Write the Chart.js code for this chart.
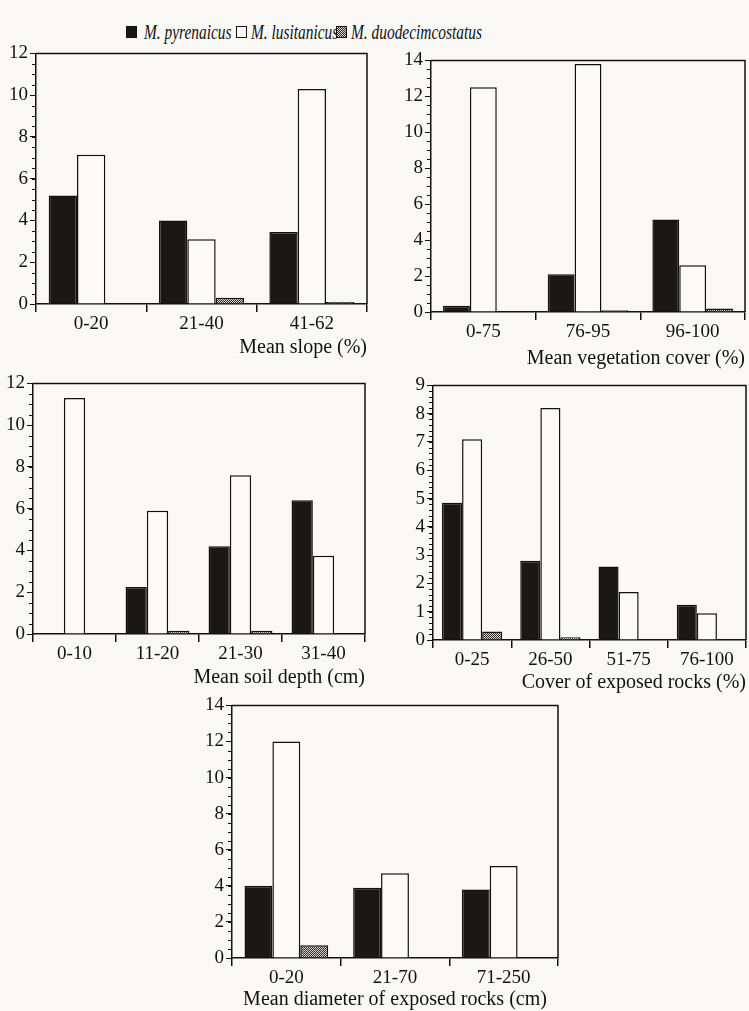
<!DOCTYPE html>
<html>
<head>
<meta charset="utf-8">
<script src="https://cdn.jsdelivr.net/npm/chart.js@4.4.0/dist/chart.umd.min.js"></script>
<style>
html, body { margin: 0; padding: 0; background: #faf8f5; }
body { width: 749px; height: 1011px; position: relative; overflow: hidden; font-family: "Liberation Serif", serif; }
canvas { position: absolute; }
.sw { position: absolute; width: 11px; height: 12px; border: 1.5px solid #111; box-sizing: border-box; }
.lt { position: absolute; font-style: italic; font-size: 22px; color: #111; white-space: nowrap; transform: scaleX(0.7); transform-origin: left center; line-height: 22px; }
</style>
</head>
<body>
<div class="sw" style="left:126px;top:26px;background:#1a1717"></div>
<div class="lt" style="left:144px;top:21px">M. pyrenaicus</div>
<div class="sw" style="left:236px;top:26px;background:#fbfaf8"></div>
<div class="lt" style="left:251px;top:21px">M. lusitanicus</div>
<div class="sw" id="dotsw" style="left:336px;top:26px"></div>
<div class="lt" style="left:351px;top:21px">M. duodecimcostatus</div>

<script>
// values
var seriesNames = ['M. pyrenaicus', 'M. lusitanicus', 'M. duodecimcostatus'];

var slopeCats = ['0-20', '21-40', '41-62'];
var slopePyr = [5.2, 4.0, 3.45];
var slopeLus = [7.15, 3.1, 10.3];
var slopeDuo = [0, 0.3, 0.1];

var vegCats = ['0-75', '76-95', '96-100'];
var vegPyr = [0.35, 2.1, 5.15];
var vegLus = [12.5, 13.8, 2.6];
var vegDuo = [0, 0.1, 0.2];

var soilCats = ['0-10', '11-20', '21-30', '31-40'];
var soilPyr = [0, 2.25, 4.2, 6.4];
var soilLus = [11.3, 5.9, 7.6, 3.75];
var soilDuo = [0, 0.15, 0.15, 0];

var rockCoverCats = ['0-25', '26-50', '51-75', '76-100'];
var rockCoverPyr = [4.85, 2.8, 2.6, 1.25];
var rockCoverLus = [7.1, 8.2, 1.7, 0.95];
var rockCoverDuo = [0.3, 0.1, 0, 0];

var rockDiamCats = ['0-20', '21-70', '71-250'];
var rockDiamPyr = [4.0, 3.9, 3.8];
var rockDiamLus = [12.0, 4.7, 5.1];
var rockDiamDuo = [0.7, 0, 0];

var ink = '#111';
var serif = 'Liberation Serif';

function makePattern() {
    var c = document.createElement('canvas');
    c.width = 2; c.height = 2;
    var x = c.getContext('2d');
    x.fillStyle = '#2e2a2a';
    x.fillRect(0, 0, 2, 2);
    x.fillStyle = '#d9d5d0';
    x.fillRect(0, 0, 1, 1);
    x.fillRect(1, 1, 1, 1);
    return c;
}
var patCanvas = makePattern();
document.getElementById('dotsw').style.background = 'url(' + patCanvas.toDataURL() + ')';

// top + right frame lines and the small minor ticks on the y axis
var framePlugin = {
    id: 'frame',
    afterDatasetsDraw: function(chart, args, opts) {
        var a = chart.chartArea, ctx = chart.ctx, y = chart.scales.y;
        ctx.save();
        ctx.strokeStyle = ink;
        ctx.lineWidth = 1.5;
        ctx.beginPath();
        ctx.moveTo(a.left, a.top);
        ctx.lineTo(a.right, a.top);
        ctx.lineTo(a.right, a.bottom);
        ctx.stroke();
        ctx.lineWidth = 1;
        ctx.beginPath();
        for (var v = 0; v <= y.max + 1e-9; v += opts.minor) {
            var py = Math.round(y.getPixelForValue(v)) + 0.5;
            ctx.moveTo(a.left - 4, py);
            ctx.lineTo(a.left, py);
        }
        ctx.stroke();
        ctx.restore();
    }
};

function panel(plot, cats, pyr, lus, duo, yMax, yStep, minor, title, titleY, titleAlign) {
    var yw = 36;
    var left = plot.L - yw, top = plot.T - 12;
    var width = plot.R - left + 3;
    var xh = titleY - plot.B + 12;
    var height = 12 + plot.B - plot.T + xh;

    var cv = document.createElement('canvas');
    cv.width = width; cv.height = height;
    cv.style.left = left + 'px';
    cv.style.top = top + 'px';
    cv.style.width = width + 'px';
    cv.style.height = height + 'px';
    document.body.appendChild(cv);
    var ctx = cv.getContext('2d');
    var pattern = ctx.createPattern(patCanvas, 'repeat');

    new Chart(ctx, {
        type: 'bar',
        data: {
            labels: cats,
            datasets: [
                { label: seriesNames[0], data: pyr, backgroundColor: '#1a1717', borderColor: ink, borderWidth: 1.5 },
                { label: seriesNames[1], data: lus, backgroundColor: '#fbfaf8', borderColor: ink, borderWidth: 1.5 },
                { label: seriesNames[2], data: duo, backgroundColor: pattern, borderColor: ink, borderWidth: 1.5 }
            ]
        },
        options: {
            responsive: false,
            animation: false,
            devicePixelRatio: 1,
            layout: { padding: { top: 12, right: 3, left: 0, bottom: 0 } },
            datasets: { bar: { categoryPercentage: 0.77, barPercentage: 1 } },
            plugins: {
                legend: { display: false },
                tooltip: { enabled: false },
                frame: { minor: minor }
            },
            scales: {
                x: {
                    grid: { drawOnChartArea: false, drawTicks: true, tickLength: 8, color: ink, lineWidth: 1.5, offset: true },
                    border: { display: true, color: ink, width: 1.5 },
                    ticks: { color: ink, font: { family: serif, size: 19 }, padding: 1, maxRotation: 0, autoSkip: false },
                    title: { display: true, text: title, align: titleAlign, color: ink, font: { family: serif, size: 20 }, padding: 0 },
                    afterFit: function(s) { s.height = xh; }
                },
                y: {
                    min: 0,
                    max: yMax,
                    ticks: { stepSize: yStep, color: ink, font: { family: serif, size: 19 }, padding: 2 },
                    grid: { drawOnChartArea: false, drawTicks: true, tickLength: 6, color: ink, lineWidth: 1 },
                    border: { display: true, color: ink, width: 1.5 },
                    afterFit: function(s) { s.width = yw; }
                }
            }
        },
        plugins: [framePlugin]
    });
}

document.addEventListener('DOMContentLoaded', function() {
    panel({ L: 36, R: 367, T: 52, B: 304 }, slopeCats, slopePyr, slopeLus, slopeDuo, 12, 2, 0.5, 'Mean slope (%)', 348, 'end');
    panel({ L: 431, R: 745, T: 59, B: 312 }, vegCats, vegPyr, vegLus, vegDuo, 14, 2, 0.5, 'Mean vegetation cover (%)', 359, 'end');
    panel({ L: 33, R: 365, T: 382, B: 634 }, soilCats, soilPyr, soilLus, soilDuo, 12, 2, 0.5, 'Mean soil depth (cm)', 678, 'end');
    panel({ L: 433, R: 746, T: 384, B: 640 }, rockCoverCats, rockCoverPyr, rockCoverLus, rockCoverDuo, 9, 1, 0.2, 'Cover of exposed rocks (%)', 683, 'end');
    panel({ L: 232, R: 558, T: 704, B: 958 }, rockDiamCats, rockDiamPyr, rockDiamLus, rockDiamDuo, 14, 2, 0.5, 'Mean diameter of exposed rocks (cm)', 1000, 'center');
});
</script>
</body>
</html>
